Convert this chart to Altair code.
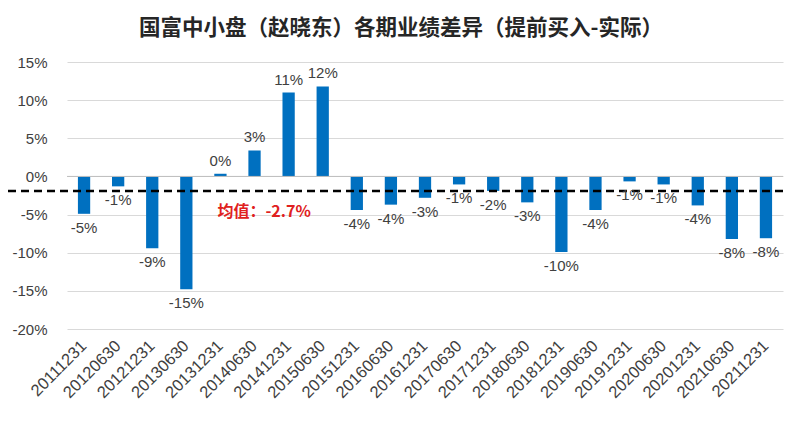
import altair as alt
import pandas as pd

periods = ["20111231", "20120630", "20121231", "20130630", "20131231", "20140630",
           "20141231", "20150630", "20151231", "20160630", "20161231", "20170630",
           "20171231", "20180630", "20181231", "20190630", "20191231", "20200630",
           "20201231", "20210630", "20211231"]
diff_pct = [-4.9, -1.3, -9.4, -14.8, 0.35, 3.4, 11.0, 11.8, -4.4, -3.7, -2.8, -1.05,
            -1.9, -3.4, -9.9, -4.4, -0.65, -1.05, -3.8, -8.2, -8.1]
mean_line_pct = [-1.9]          # where the dashed line is drawn in the reference
mean_label = ["均值：-2.7%"]
label_anchor = ["20131231"]
label_pos_pct = [-4.6]
y_ticks = [-0.2, -0.15, -0.1, -0.05, 0.0, 0.05, 0.1, 0.15]
title_text = "国富中小盘（赵晓东）各期业绩差异（提前买入-实际）"

df = pd.DataFrame({"period": periods, "pct": diff_pct})
df["v"] = df["pct"] / 100.0

W, H = 716, 267
font = "Liberation Sans"

x_axis = alt.Axis(labelAngle=-45, labelFontSize=16.5, labelColor="#404040",
                  labelFont=font, ticks=False, domain=False,
                  labelPadding=14, grid=False, labelAlign="right",
                  labelBaseline="middle")
x_scale = alt.Scale(paddingInner=0.64, paddingOuter=0.32)
y_axis = alt.Axis(format=".0%", values=y_ticks, labelOverlap=False,
                  labelFontSize=15, labelColor="#404040", labelFont=font,
                  ticks=False, domain=False, labelPadding=20,
                  gridColor="#d9d9d9", gridWidth=1)
y_scale = alt.Scale(domain=[-0.20, 0.15], nice=False, zero=False)


def X():
    return alt.X("period:N", sort=periods, title=None, scale=x_scale, axis=x_axis)


def Y(field):
    return alt.Y(field, scale=y_scale, title=None, axis=y_axis)


base = alt.Chart(df)

bars = base.mark_bar(color="#0070C0").encode(x=X(), y=Y("v:Q"))

zero = alt.Chart(pd.DataFrame({"z": [0.0]})).mark_rule(color="#bfbfbf", strokeWidth=1).encode(
    y=Y("z:Q")
)

lab_neg = base.transform_filter("datum.v < 0").mark_text(
    baseline="top", dy=7, fontSize=15, font=font, color="#404040"
).encode(x=X(), y=Y("v:Q"), text=alt.Text("v:Q", format=".0%"))

lab_pos = base.transform_filter("datum.v >= 0").mark_text(
    baseline="bottom", dy=-5, fontSize=15, font=font, color="#404040"
).encode(x=X(), y=Y("v:Q"), text=alt.Text("v:Q", format=".0%"))

mean_df = pd.DataFrame({"m": [v / 100.0 for v in mean_line_pct]})
mean_rule = alt.Chart(mean_df).mark_rule(
    color="black", strokeWidth=2.5, strokeDash=[8, 5], clip=False
).encode(y=Y("m:Q"), x=alt.value(-59), x2=alt.value(W))

mlab_df = pd.DataFrame({"period": label_anchor, "t": mean_label,
                        "y": [v / 100.0 for v in label_pos_pct]})
mean_text = alt.Chart(mlab_df).mark_text(
    align="left", baseline="middle", dx=-3, fontSize=16, fontWeight="bold",
    font="Noto Sans CJK SC", color="#E02020"
).encode(x=X(), y=Y("y:Q"), text="t:N")

chart = alt.layer(bars, zero, mean_rule, lab_neg, lab_pos, mean_text).properties(
    width=W, height=H,
    title=alt.TitleParams(title_text, fontSize=21.5, fontWeight="bold",
                          font="Noto Sans CJK SC", color="#262626",
                          anchor="middle", dx=-24, offset=16),
    padding={"left": 59, "top": 54, "right": 9, "bottom": 85},
    autosize=alt.AutoSizeParams(type="none"),
).configure(
    locale={"number": {"decimal": ".", "thousands": ",", "grouping": [3],
                       "currency": ["$", ""], "minus": "-"}}
).configure_view(stroke=None)

chart.save("out.html", embed_options={"renderer": "svg", "actions": False})
